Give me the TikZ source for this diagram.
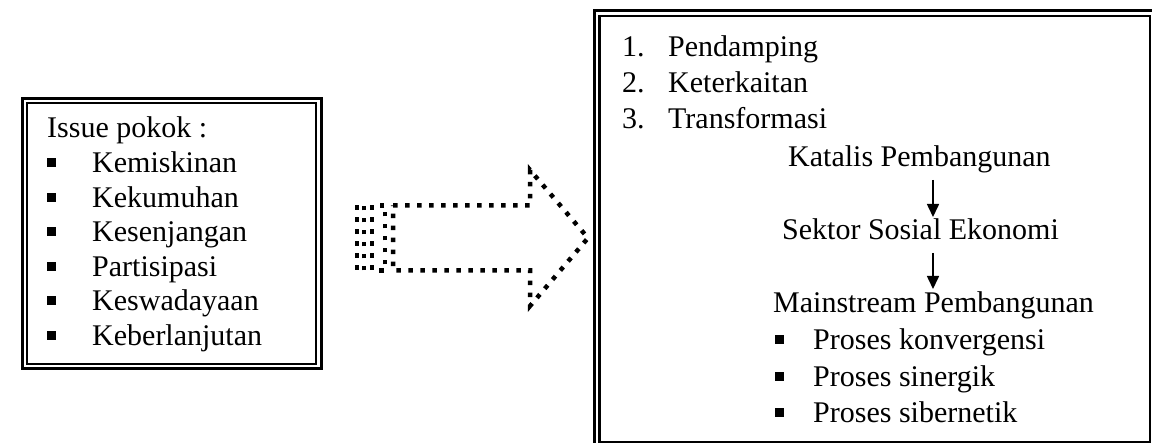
\documentclass[tikz,border=0pt]{standalone}
\usepackage{fontspec}
\setmainfont{Liberation Serif}
\usetikzlibrary{arrows.meta}
\begin{document}
\begin{tikzpicture}[x=1pt,y=-1pt,
  txt/.style={anchor=base west, inner sep=0pt, font=\fontsize{30}{36}\selectfont},
  bul/.style={fill=black, minimum size=9pt, inner sep=0pt, outer sep=0pt},
  frameouter/.style={line width=3pt},
  frameinner/.style={line width=2.2pt},
  dotted arrow/.style={line width=4.5pt, dash pattern=on 4.5pt off 7.5pt, line join=miter},
  flow/.style={line width=1.6pt, -{Triangle[length=13pt,width=12pt]}}
]
\fill[white] (0,0) rectangle (1152,443);
\useasboundingbox (0,0) rectangle (1152,443);

% ---------- left box: main issues ----------
\draw[frameouter] (22.3,98.3) rectangle (321,368.7);
\draw[frameinner] (27,103) rectangle (316.3,364);
\node[txt] (issue) at (47,138) {Issue pokok :};
\foreach \name/\label [count=\i] in {kem/Kemiskinan, kek/Kekumuhan, kes/Kesenjangan,
    par/Partisipasi, ksw/Keswadayaan, keb/Keberlanjutan} {
  \pgfmathsetmacro{\yb}{138+34.6*\i}
  \node[bul] (b-\name) at (51,\yb-10) {};
  \node[txt] (\name) at (92,\yb) {\label};
}

% ---------- striped block arrow ----------
\draw[dotted arrow] (357,205.5) rectangle (364,270.5);
\draw[dotted arrow] (372,205.5) rectangle (385,270.5);
\draw[dotted arrow] (393,205.5) -- (530,205.5) -- (530,170) -- (588,238)
  -- (530,306) -- (530,270.5) -- (393,270.5) -- cycle;

% ---------- right box ----------
\draw[frameouter] (594.5,10.5) rectangle (1155.5,447);
\draw[frameinner] (599.5,15.7) rectangle (1150,441.7);
\node[txt] (n1) at (622,57) {1.};
\node[txt] (t1) at (668,57) {Pendamping};
\node[txt] (n2) at (622,93) {2.};
\node[txt] (t2) at (668,93) {Keterkaitan};
\node[txt] (n3) at (622,128.5) {3.};
\node[txt] (t3) at (668,128.5) {Transformasi};

\node[txt] (katalis) at (788,167) {Katalis Pembangunan};
\node[txt] (sektor) at (782,240) {Sektor Sosial Ekonomi};
\node[txt] (main) at (773,313) {Mainstream Pembangunan};
\coordinate (ax) at (933,0);
% flow arrows run from just below one line to just above the next
\draw[flow] ([yshift=-13pt]katalis.base -| ax) -- ([yshift=23pt]sektor.base -| ax);
\draw[flow] ([yshift=-13pt]sektor.base -| ax) -- ([yshift=24pt]main.base -| ax);

\foreach \name/\label/\yb in {pk/Proses konvergensi/350, ps/Proses sinergik/387,
    pb/Proses sibernetik/423} {
  \node[bul] (b-\name) at (779,\yb-10) {};
  \node[txt] (\name) at (813,\yb) {\label};
}
\end{tikzpicture}
\end{document}
